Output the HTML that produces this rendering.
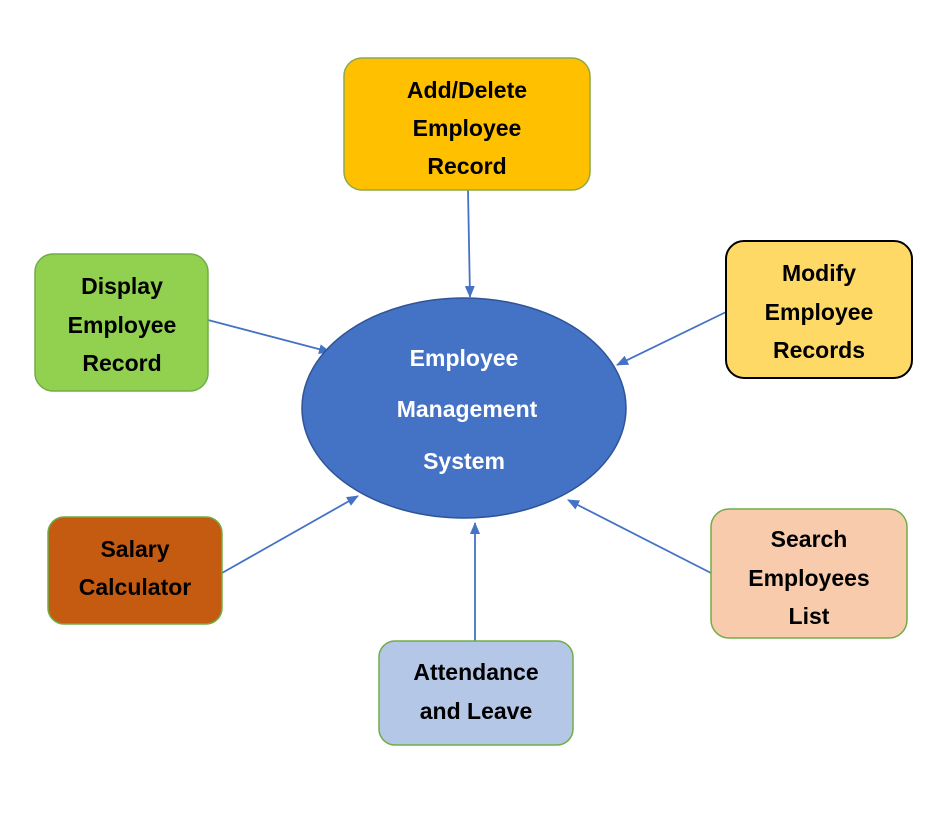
<!DOCTYPE html>
<html><head><style>
html,body{margin:0;padding:0;background:#fff;width:937px;height:821px;overflow:hidden}
svg text{font-family:"Liberation Sans",sans-serif;font-weight:bold;font-size:23px;text-anchor:middle}
</style></head><body>
<svg width="937" height="821" viewBox="0 0 937 821" xmlns="http://www.w3.org/2000/svg">
<defs><marker id="a" markerWidth="12" markerHeight="10" refX="11" refY="5" orient="auto" markerUnits="userSpaceOnUse"><path d="M0,0 L12,5 L0,10 z" fill="#4472C4"/></marker></defs>
<g stroke="#4472C4" stroke-width="1.8" fill="none" marker-end="url(#a)">
<line x1="468" y1="190" x2="470" y2="297"/>
<line x1="208" y1="320" x2="330" y2="352"/>
<line x1="726" y1="312" x2="617" y2="365"/>
<line x1="222" y1="573" x2="358" y2="496"/>
<line x1="475" y1="641" x2="475" y2="523"/>
<line x1="711" y1="573" x2="568" y2="500"/>
</g>
<ellipse cx="464" cy="408" rx="162" ry="110" fill="#4472C4" stroke="#2F5597" stroke-width="1.5"/>
<g fill="#fff"><text x="464" y="366">Employee</text><text x="467" y="417">Management</text><text x="464" y="469">System</text></g>
<rect x="344" y="58" width="246" height="132" rx="18" fill="#FFC000" stroke="#8FA84A" stroke-width="1.5"/>
<text x="467" y="98">Add/Delete</text><text x="467" y="136">Employee</text><text x="467" y="174">Record</text>
<rect x="35" y="254" width="173" height="137" rx="18" fill="#92D050" stroke="#70AD47" stroke-width="1.5"/>
<text x="122" y="294">Display</text><text x="122" y="333">Employee</text><text x="122" y="371">Record</text>
<rect x="726" y="241" width="186" height="137" rx="18" fill="#FFD966" stroke="#000" stroke-width="2"/>
<text x="819" y="281">Modify</text><text x="819" y="320">Employee</text><text x="819" y="358">Records</text>
<rect x="48" y="517" width="174" height="107" rx="16" fill="#C55A11" stroke="#70AD47" stroke-width="1.5"/>
<text x="135" y="557">Salary</text><text x="135" y="595">Calculator</text>
<rect x="711" y="509" width="196" height="129" rx="18" fill="#F8CBAD" stroke="#70AD47" stroke-width="1.5"/>
<text x="809" y="547">Search</text><text x="809" y="586">Employees</text><text x="809" y="624">List</text>
<rect x="379" y="641" width="194" height="104" rx="16" fill="#B4C7E7" stroke="#70AD47" stroke-width="1.5"/>
<text x="476" y="680">Attendance</text><text x="476" y="719">and Leave</text>
</svg>
</body></html>
